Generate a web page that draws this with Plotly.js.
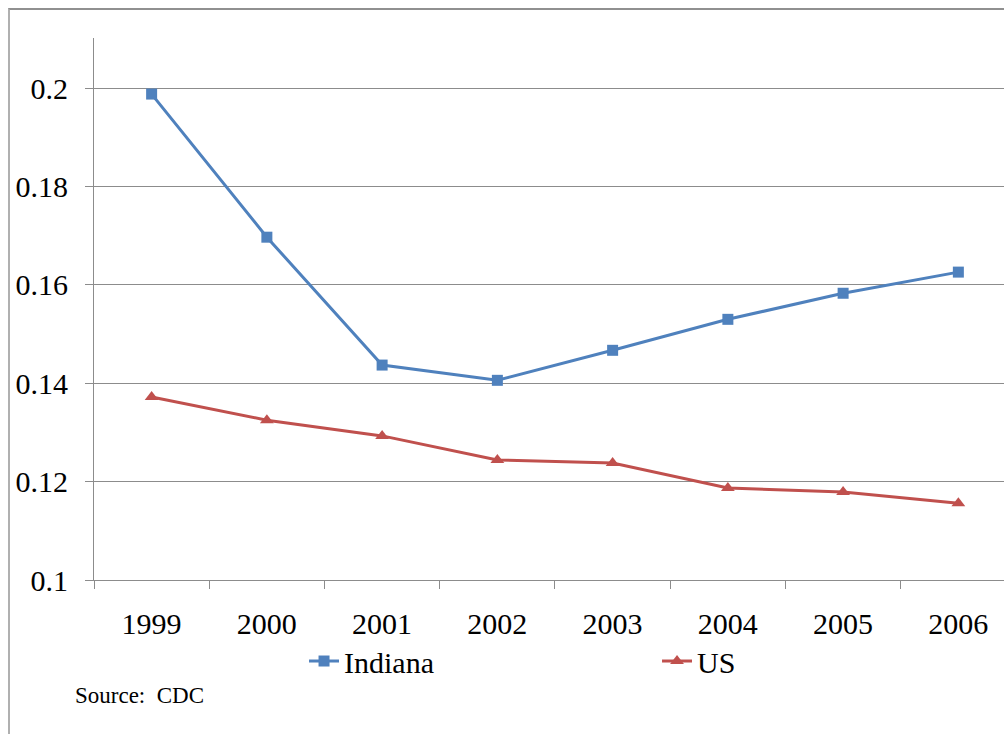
<!DOCTYPE html>
<html>
<head>
<meta charset="utf-8">
<script src="https://cdn.plot.ly/plotly-3.0.1.min.js"></script>
<style>
  html, body { margin: 0; padding: 0; background: #fff; overflow: hidden; width: 1004px; height: 734px; }
  #frame { position: absolute; left: 8px; top: 8px; width: 1100px; height: 800px;
           border-left: 2px solid #b0b0b0; border-top: 2px solid #909090; }
  #chart { position: absolute; left: 0; top: 0; width: 1100px; height: 734px; }
</style>
</head>
<body>
<div id="frame"></div>
<div id="chart"></div>
<script>
// Years on the category axis
const years = ['1999', '2000', '2001', '2002', '2003', '2004', '2005', '2006'];
// Rates by year
const indiana = [0.1988, 0.1697, 0.1437, 0.1406, 0.1467, 0.1530, 0.1583, 0.1626];
const us = [0.1372, 0.1325, 0.1293, 0.1244, 0.1238, 0.1187, 0.1179, 0.1156];
const sourceNote = 'Source:  CDC';

const serif = '"Liberation Serif", "Times New Roman", serif';

const traces = [
  {
    x: years, y: indiana, name: 'Indiana', type: 'scatter', mode: 'lines+markers',
    line: { color: '#4F81BD', width: 3 },
    marker: { symbol: 'square', size: 11, color: '#4F81BD' }
  },
  {
    x: years, y: us, name: 'US', type: 'scatter', mode: 'lines+markers',
    line: { color: '#C0504D', width: 3 },
    marker: { symbol: 'triangle-up', size: 12, color: '#C0504D' }
  }
];

// Chart canvas runs wider than the window; the plot area continues past the right edge
const layout = {
  width: 1100, height: 734,
  margin: { l: 94, r: 96, t: 38, b: 154 },
  paper_bgcolor: 'rgba(0,0,0,0)',
  plot_bgcolor: 'rgba(0,0,0,0)',
  font: { family: serif, size: 30, color: '#000' },
  showlegend: true,
  legend: {
    orientation: 'h', x: 0.2308, xanchor: 'left', y: -0.1015, yanchor: 'top',
    entrywidth: 308, entrywidthmode: 'pixels',
    font: { family: serif, size: 30, color: '#000' },
    bgcolor: 'rgba(0,0,0,0)'
  },
  xaxis: {
    type: 'category',
    range: [-0.5, 7.396],
    showgrid: false,
    showline: true, linecolor: '#8c8c8c', linewidth: 1,
    ticks: 'outside', tickson: 'boundaries', ticklen: 8, tickcolor: '#8c8c8c',
    tickfont: { family: serif, size: 30, color: '#000' },
    ticklabelstandoff: 17,
    zeroline: false
  },
  yaxis: {
    range: [0.1, 0.2102],
    tickmode: 'array',
    tickvals: [0.1, 0.12, 0.14, 0.16, 0.18, 0.2],
    ticktext: ['0.1', '0.12', '0.14', '0.16', '0.18', '0.2'],
    showgrid: true, gridcolor: '#8c8c8c', gridwidth: 1,
    showline: true, linecolor: '#8c8c8c', linewidth: 1,
    ticks: 'outside', ticklen: 8, tickcolor: '#8c8c8c',
    tickfont: { family: serif, size: 30, color: '#000' },
    ticklabelstandoff: 11,
    zeroline: false
  },
  annotations: [{
    text: sourceNote, xref: 'paper', yref: 'paper',
    x: (73 - 94) / 910, y: (580 - 695) / 542,
    xanchor: 'left', yanchor: 'middle', showarrow: false,
    font: { family: serif, size: 23, color: '#000' }
  }]
};

Plotly.newPlot('chart', traces, layout, { displayModeBar: false, staticPlot: true });
</script>
</body>
</html>
